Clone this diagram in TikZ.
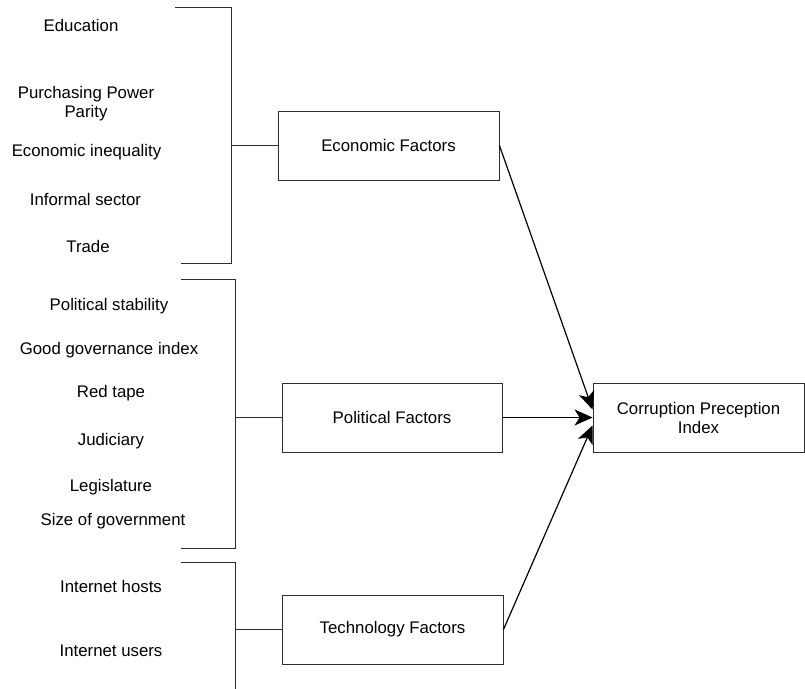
\documentclass[tikz,border=0pt]{standalone}
\usepackage{fontspec}
\setmainfont{Liberation Sans}
\usepackage{tikz}
\usetikzlibrary{arrows.meta, positioning}
\definecolor{linegray}{RGB}{45, 45, 45}
\newcommand{\factorfont}{\fontsize{16.8}{19}\selectfont}

\begin{document}
\begin{tikzpicture}[x=1pt, y=-1pt,
    factorbox/.style={draw=linegray, line width=0.9pt, minimum height=69pt,
        inner sep=0pt, align=center, font=\factorfont},
    itemtext/.style={font=\factorfont, align=center, inner sep=0pt},
    bracket/.style={draw=linegray, line width=0.9pt},
    link/.style={draw=black, line width=1.2pt, -{Stealth[length=18pt, width=16pt, inset=5pt]}}]
    \useasboundingbox (0,0) rectangle (805,688);

    % Factor boxes
    \node[factorbox, minimum width=221pt] (econ) at (388.5,145.5) {Economic Factors};
    \node[factorbox, minimum width=220pt] (polit) at (392,417.5) {Political Factors};
    \node[factorbox, minimum width=221pt] (tech) at (392.5,629.5) {Technology Factors};
    \node[factorbox, minimum width=211pt] (cpi) at (698.5,417.5) {Corruption Preception\\Index};

    % Economic items
    \node[itemtext] (edu) at (81,25) {Education};
    \node[itemtext] (ppp) at (86,104) {Purchasing Power\\Parity};
    \node[itemtext] (ineq) at (86.5,152.5) {Economic inequality};
    \node[itemtext] (informal) at (85.5,199) {Informal sector};
    \node[itemtext] (trade) at (88,246) {Trade};

    % Political items
    \node[itemtext] (stab) at (109,306) {Political stability};
    \node[itemtext] (gov) at (109,350) {Good governance index};
    \node[itemtext] (redtape) at (111,393) {Red tape};
    \node[itemtext] (judic) at (111,441) {Judiciary};
    \node[itemtext] (legis) at (111,487) {Legislature};
    \node[itemtext] (govsize) at (113,521) {Size of government};

    % Technology items
    \node[itemtext] (hosts) at (111,586) {Internet hosts};
    \node[itemtext] (users) at (111,651) {Internet users};

    % Brackets
    \draw[bracket] (175,7) -| (231,263) -- (181,263);
    \draw[bracket] (181,279) -| (235,548) -- (181,548);
    \draw[bracket] (181,562) -| (235,690);
    \coordinate (econspine) at (231,145.5);
    \coordinate (politspine) at (235,417.5);
    \coordinate (techspine) at (235,629.5);
    \draw[bracket] (econspine) -- (econ.west);
    \draw[bracket] (politspine) -- (polit.west);
    \draw[bracket] (techspine) -- (tech.west);

    % Arrows into the index
    \draw[link] (econ.east) -- ([yshift=8pt]cpi.west);
    \draw[link] (polit.east) -- (cpi.west);
    \draw[link] (tech.east) -- ([yshift=-8pt]cpi.west);
\end{tikzpicture}
\end{document}
